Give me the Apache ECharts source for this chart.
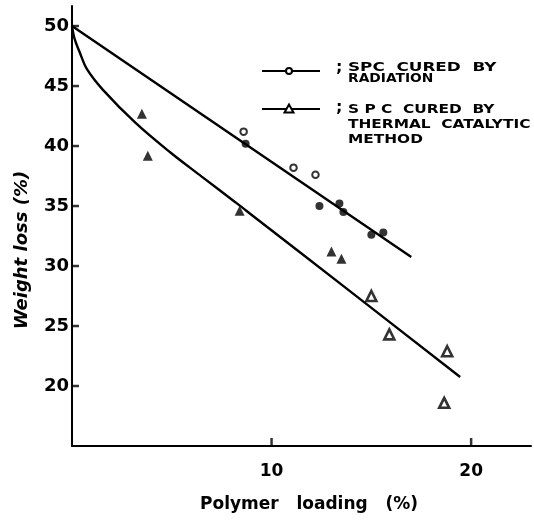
<!DOCTYPE html>
<html>
<head>
<meta charset="utf-8">
<script src="https://cdn.jsdelivr.net/npm/echarts@6/dist/echarts.min.js"></script>
<style>
html, body { margin: 0; padding: 0; background: #fff; }
#main { width: 534px; height: 522px; }
</style>
</head>
<body>
<div id="main"></div>
<script>
// tick labels
var xTickLabels = [10, 20];
var yTickLabels = [20, 25, 30, 35, 40, 45, 50];

// SPC cured by radiation (circles)
var radOpen = [[8.6, 41.2], [11.1, 38.2], [12.2, 37.6]];
var radFilled = [[8.7, 40.2], [12.4, 35.0], [13.4, 35.2], [13.6, 34.5], [15.0, 32.6], [15.6, 32.8]];
var radLine = [[0, 50], [17, 30.75]];

// SPC cured by thermal catalytic method (triangles)
var thermFilled = [[3.5, 42.7], [3.8, 39.2], [8.4, 34.6], [13.0, 31.2], [13.5, 30.6]];
var thermOpen = [[15.0, 27.5], [15.9, 24.3], [18.8, 22.9], [18.65, 18.6]];
var thermLine = [[0, 50], [0.12, 49.0], [0.4, 47.75], [0.75, 46.4], [1.54, 44.7], [3.2, 41.9],
                 [4.9, 39.5], [6.5, 37.45], [8.2, 35.3], [9.2, 34.0], [13.7, 28.2], [19.45, 20.75]];

var xMin = 0, xMax = 23, yMin = 15, yMax = 51.67;
var font = 'DejaVu Sans';
var chart = echarts.init(document.getElementById('main'));

// tick marks only at the labelled values (drawn inside the axes)
var xTicks = xTickLabels.map(function (v) { return [v, yMin]; });
var yTicks = yTickLabels.map(function (v) { return [xMin, v]; });

chart.setOption({
  animation: false,
  backgroundColor: '#fff',
  grid: { left: 72, top: 6, width: 462, height: 440 },
  xAxis: {
    type: 'value', min: xMin, max: xMax, interval: 10,
    axisLine: { lineStyle: { color: '#000', width: 2 } },
    axisTick: { show: false },
    splitLine: { show: false },
    axisLabel: {
      color: '#000', fontFamily: font, fontWeight: 'bold', fontSize: 17, margin: 17,
      formatter: function (v) { return xTickLabels.indexOf(v) >= 0 ? v : ''; }
    }
  },
  yAxis: {
    type: 'value', min: yMin, max: yMax, interval: 5,
    axisLine: { lineStyle: { color: '#000', width: 2 } },
    axisTick: { show: false },
    splitLine: { show: false },
    axisLabel: {
      color: '#000', fontFamily: font, fontWeight: 'bold', fontSize: 18, margin: 3,
      formatter: function (v) { return yTickLabels.indexOf(v) >= 0 ? v : ''; }
    }
  },
  series: [
    { type: 'line', data: radLine, symbol: 'none',
      lineStyle: { color: '#000', width: 2.4 } },
    { type: 'line', data: thermLine, smooth: 0.35, symbol: 'none',
      lineStyle: { color: '#000', width: 2.4 } },
    { type: 'scatter', data: radFilled, symbol: 'circle', symbolSize: 8,
      itemStyle: { color: '#000' } },
    { type: 'scatter', data: radOpen, symbol: 'circle', symbolSize: 6.5,
      itemStyle: { color: '#fff', borderColor: '#000', borderWidth: 2 } },
    { type: 'scatter', data: thermFilled, symbol: 'triangle', symbolSize: 10,
      itemStyle: { color: '#000' } },
    { type: 'scatter', data: thermOpen, symbol: 'triangle', symbolSize: 10,
      itemStyle: { color: '#fff', borderColor: '#000', borderWidth: 2.6 } },
    { type: 'scatter', data: xTicks, symbol: 'rect', symbolSize: [2.5, 8], symbolOffset: [0, -4],
      silent: true, clip: false, itemStyle: { color: '#000' } },
    { type: 'scatter', data: yTicks, symbol: 'rect', symbolSize: [8, 2.5], symbolOffset: [3, 0],
      silent: true, clip: false, itemStyle: { color: '#000' } }
  ],
  graphic: [
    // axis titles
    { type: 'text', x: 22, y: 250, rotation: Math.PI / 2,
      style: { text: 'Weight loss (%)', font: 'italic bold 18px ' + font, fill: '#000',
               align: 'center', verticalAlign: 'middle' } },
    { type: 'text', x: 309, y: 505,
      style: { text: 'Polymer   loading   (%)', font: 'bold 17px ' + font, fill: '#000',
               align: 'center', verticalAlign: 'middle' } },
    // legend
    { type: 'line', shape: { x1: 262, y1: 71, x2: 320, y2: 71 }, style: { stroke: '#000', lineWidth: 2 } },
    { type: 'circle', shape: { cx: 289, cy: 71, r: 3 }, style: { fill: '#fff', stroke: '#000', lineWidth: 2 } },
    { type: 'text', x: 336, y: 60, style: { text: ';', font: 'bold 16px ' + font, fill: '#000' } },
    { type: 'text', x: 348, y: 62, scaleX: 1.4,
      style: { text: 'SPC  CURED  BY', font: 'bold 12px ' + font, fill: '#000' } },
    { type: 'text', x: 348, y: 73, scaleX: 1.15,
      style: { text: 'RADIATION', font: 'bold 12px ' + font, fill: '#000' } },
    { type: 'line', shape: { x1: 262, y1: 109, x2: 320, y2: 109 }, style: { stroke: '#000', lineWidth: 2 } },
    { type: 'polygon', shape: { points: [[289, 104.5], [284.5, 112.5], [293.5, 112.5]] }, style: { fill: '#fff', stroke: '#000', lineWidth: 2 } },
    { type: 'text', x: 336, y: 100, style: { text: ';', font: 'bold 16px ' + font, fill: '#000' } },
    { type: 'text', x: 348, y: 102, scaleX: 1.28,
      style: { text: 'S P C  CURED  BY\nTHERMAL  CATALYTIC\nMETHOD', font: 'bold 12px ' + font, lineHeight: 15, fill: '#000' } }
  ]
});
</script>
</body>
</html>
